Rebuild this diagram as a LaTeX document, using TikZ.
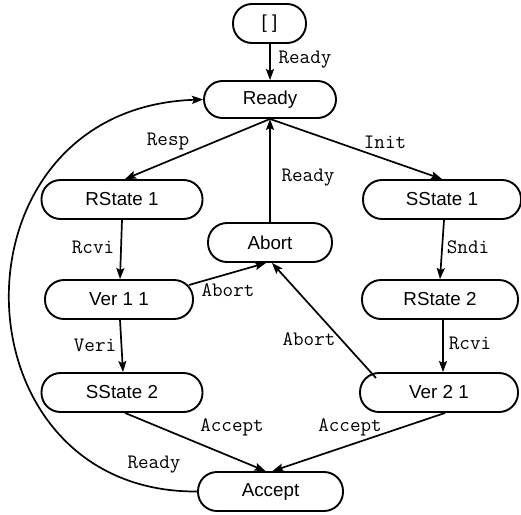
\documentclass[tikz,border=0pt]{standalone}
\usepackage{fontspec}
\setmainfont{Liberation Sans}
\usetikzlibrary{arrows.meta,calc}
\begin{document}
\begin{tikzpicture}[x=1pt,y=1pt,
  state/.style={draw,line width=1.9pt,rounded corners=19pt,minimum height=39pt,
    inner sep=0pt,font=\fontsize{18.8}{21}\selectfont},
  trans/.style={line width=1.7pt,-{Stealth[length=11pt,width=8pt,inset=2pt]}},
  lbl/.style={inner sep=0pt,font=\ttfamily\fontsize{20.5}{22}\selectfont}]
\useasboundingbox[fill=white] (0,0) rectangle (521,-514);

% states
\node[state,minimum width=73pt,minimum height=39pt] (init) at (269.5,-23.5) {[ ]};
\node[state,minimum width=132pt,minimum height=37pt,rounded corners=18.5pt] (ready) at (270,-99.5) {Ready};
\node[state,minimum width=161pt] (rs1) at (122,-199.5) {RState 1};
\node[state,minimum width=124pt] (abort) at (270,-242.5) {Abort};
\node[state,minimum width=158pt] (ss1) at (442,-199.5) {SState 1};
\node[state,minimum width=148pt] (v11) at (119,-299.5) {Ver 1 1};
\node[state,minimum width=156pt] (rs2) at (440,-299.5) {RState 2};
\node[state,minimum width=161pt] (ss2) at (122,-392.5) {SState 2};
\node[state,minimum width=158pt] (v21) at (439,-392.5) {Ver 2 1};
\node[state,minimum width=145pt] (acc) at (270.5,-491.5) {Accept};

% transitions
\draw[trans] (init.south) -- (ready.south |- init.south) -- (ready.north);
\draw[trans] (ready.south) -- ($(rs1.north)+(3,0)$);
\draw[trans] (ready.south) -- (ss1.north);
\draw[trans] (abort.north) -- (ready.south);
\draw[trans] ($(rs1.south)+(0,0)$) -- ($(v11.north)+(1,0)$);
\draw[trans] ($(v11.east)+(-5,14.5)$) -- ($(abort.south)+(-4,0)$);
\draw[trans] ($(ss1.south)+(2,0)$) -- (rs2.north);
\draw[trans] ($(v11.south)+(1,0)$) -- ($(ss2.north)+(1,0)$);
\draw[trans] ($(rs2.south)+(3,0)$) -- ($(v21.north)+(4,0)$);
\draw[trans] ($(v21.north west)+(17,-6)$) -- ($(abort.south)+(2,0)$);
\draw[trans] ($(ss2.south)+(3,0)$) -- ($(acc.north)+(-5,0)$);
\draw[trans] ($(v21.south)+(6,0)$) -- ($(acc.north)+(2,0)$);
\draw[trans] (acc.west) .. controls (-50,-493) and (-57,-108) .. (ready.west);

% transition labels
\node[lbl] (l0) at (305,-60) {Ready};
\node[lbl] (l1) at (168,-142) {Resp};
\node[lbl] (l2) at (385,-142) {Init};
\node[lbl] (l3) at (308,-178) {Ready};
\node[lbl] (l4) at (93,-247) {Rcvi};
\node[lbl] (l5) at (228,-290) {Abort};
\node[lbl] (l6) at (468,-247) {Sndi};
\node[lbl] (l7) at (95,-345) {Veri};
\node[lbl] (l8) at (309,-339) {Abort};
\node[lbl] (l9) at (470,-343) {Rcvi};
\node[lbl] (l10) at (232,-427) {Accept};
\node[lbl] (l11) at (350,-427) {Accept};
\node[lbl] (l12) at (154,-465) {Ready};
\end{tikzpicture}
\end{document}
